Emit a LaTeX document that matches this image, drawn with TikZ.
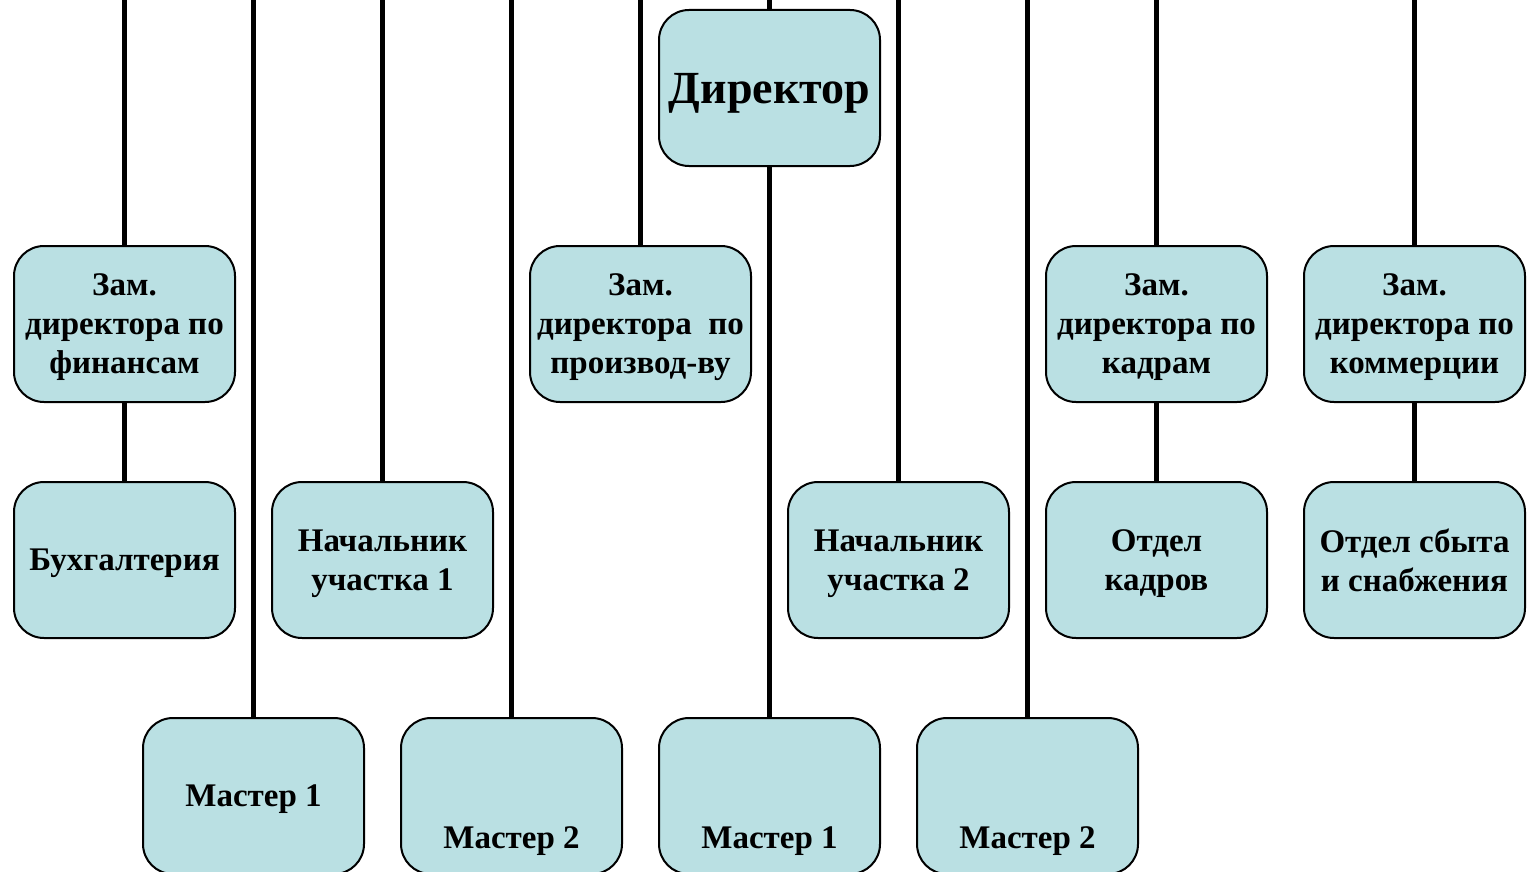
\documentclass[tikz,border=0pt]{standalone}
\usepackage{fontspec}
\setmainfont{Liberation Serif}
\definecolor{boxfill}{RGB}{186,224,227}
\begin{document}
\begin{tikzpicture}[x=0.5pt,y=-0.5pt,
		boxtext/.style={font=\bfseries\fontsize{16.5}{19.5}\selectfont,text depth=0pt},
		box/.style={draw=black,line width=1pt,fill=boxfill,rounded corners=15pt,minimum width=110.5pt,minimum height=78pt,inner sep=0pt,align=center,boxtext},
		link/.style={line width=2.5pt}]
				\useasboundingbox (0,0) rectangle (1531,872);
				\coordinate (T1) at (124.5,0);
				\coordinate (T2) at (253.5,0);
				\coordinate (T3) at (382.5,0);
				\coordinate (T4) at (511.5,0);
				\coordinate (T5) at (640.5,0);
				\coordinate (T6) at (769.5,0);
				\coordinate (T7) at (898.5,0);
				\coordinate (T8) at (1027.5,0);
				\coordinate (T9) at (1156.5,0);
				\coordinate (T10) at (1414.5,0);
				\node[box,font=\bfseries\fontsize{23}{26}\selectfont] (Dir) at (769.5,88) {Директор};
				\node[box] (ZFin) at (124.5,324) {Зам.\\директора по\\финансам};
				\node[box] (ZProd) at (640.5,324) {Зам.\\директора~~по\\производ-ву};
				\node[box] (ZKadr) at (1156.5,324) {Зам.\\директора по\\кадрам};
				\node[box] (ZKom) at (1414.5,324) {Зам.\\директора по\\коммерции};
				\node[box] (Buh) at (124.5,560) {Бухгалтерия};
				\node[box] (Uch1) at (382.5,560) {Начальник\\участка 1};
				\node[box] (Uch2) at (898.5,560) {Начальник\\участка 2};
				\node[box] (OKadr) at (1156.5,560) {Отдел\\кадров};
				\node[box] (OSbyt) at (1414.5,560) {Отдел сбыта\\и снабжения};
				\node[box] (M1a) at (253.5,796) {Мастер 1};
				\node[box,label={[yshift=-21pt,boxtext]center:Мастер 2}] (M2a) at (511.5,796) {};
				\node[box,label={[yshift=-21pt,boxtext]center:Мастер 1}] (M1b) at (769.5,796) {};
				\node[box,label={[yshift=-21pt,boxtext]center:Мастер 2}] (M2b) at (1027.5,796) {};
				\draw[link] (T1) -- (ZFin);
				\draw[link] (T2) -- (M1a);
				\draw[link] (T3) -- (Uch1);
				\draw[link] (T4) -- (M2a);
				\draw[link] (T5) -- (ZProd);
				\draw[link] (T6) -- (Dir);
				\draw[link] (T7) -- (Uch2);
				\draw[link] (T8) -- (M2b);
				\draw[link] (T9) -- (ZKadr);
				\draw[link] (T10) -- (ZKom);
				\draw[link] (Dir) -- (M1b);
				\draw[link] (ZFin) -- (Buh);
				\draw[link] (ZKadr) -- (OKadr);
				\draw[link] (ZKom) -- (OSbyt);
\end{tikzpicture}
\end{document}
